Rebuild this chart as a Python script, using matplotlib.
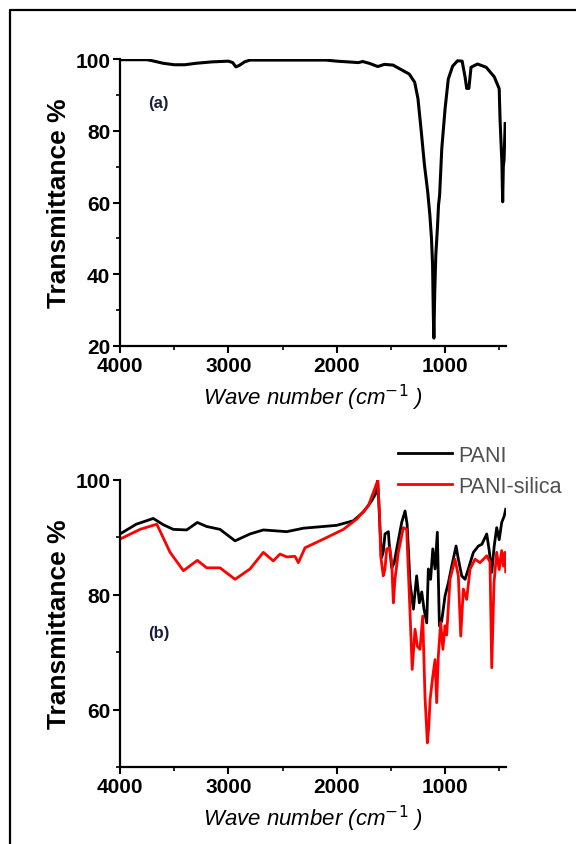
import matplotlib
matplotlib.use('Agg')
from matplotlib import pyplot as plt
from matplotlib.lines import Line2D
from matplotlib.ticker import MultipleLocator

plt.rcParams['font.family'] = ['Liberation Sans', 'DejaVu Sans']

# (a) silica spectrum
wave_a = [4000, 3750, 3700, 3600, 3500, 3400, 3300, 3150, 3000, 2960, 2930, 2900,
          2850, 2800, 2500, 2100, 2000, 1900, 1800, 1760, 1700, 1620, 1560, 1480,
          1420, 1330, 1280, 1250, 1220, 1190, 1160, 1140, 1125, 1115, 1108, 1103,
          1095, 1085, 1070, 1060, 1050, 1030, 1000, 970, 930, 885, 842, 815, 800,
          780, 760, 700, 620, 545, 500, 492, 475, 468, 462, 455, 445]
trans_a = [99.8, 99.8, 99.5, 98.8, 98.4, 98.4, 98.8, 99.2, 99.4, 99.0, 97.8, 98.2,
           99.2, 99.7, 99.7, 99.7, 99.4, 99.2, 99.0, 99.3, 98.8, 97.9, 98.5, 98.3,
           97.3, 95.8, 93.5, 89.0, 80.0, 70.5, 63.0, 56.5, 50.0, 42.6, 28.7, 22.2,
           35.0, 45.4, 53.0, 59.3, 62.0, 75.0, 86.0, 94.4, 98.0, 99.5, 99.4, 95.0, 91.8,
           91.8, 97.7, 98.6, 97.7, 95.0, 91.7, 83.0, 71.0, 60.2, 70.0, 72.0, 82.0]

# (b) PANI
wave_pani = [4000, 3850, 3693, 3600, 3508, 3385, 3286, 3200, 3077, 2938, 2800, 2677,
             2461, 2308, 2000, 1846, 1750, 1680, 1640, 1621, 1600, 1585, 1570, 1554,
             1523, 1515, 1492, 1470, 1446, 1400, 1369, 1350, 1323, 1292, 1262, 1237,
             1215, 1194, 1169, 1154, 1133, 1113, 1092, 1071, 1052, 1031, 1000, 969,
             938, 898, 880, 846, 815, 785, 738, 692, 660, 615, 592, 569, 546, 523,
             500, 477, 454, 440]
trans_pani = [90.6, 92.3, 93.3, 92.2, 91.4, 91.3, 92.6, 91.9, 91.4, 89.4, 90.6, 91.3,
              91.0, 91.6, 92.1, 92.9, 94.5, 96.3, 97.6, 99.9, 91.4, 86.5, 87.5, 90.6,
              91.0, 88.8, 84.7, 85.5, 88.0, 92.6, 94.6, 92.3, 82.1, 77.5, 83.3, 78.6,
              80.5, 77.5, 75.1, 84.5, 82.7, 88.0, 84.5, 90.9, 74.6, 75.4, 79.8, 82.1,
              85.0, 88.5, 86.5, 83.3, 82.7, 84.5, 87.4, 88.5, 88.8, 90.6, 87.7, 83.9,
              88.5, 91.7, 89.6, 92.6, 93.7, 94.9]

# (b) PANI-silica
wave_ps = [4000, 3815, 3661, 3640, 3538, 3415, 3286, 3200, 3077, 2938, 2800, 2677,
           2585, 2523, 2461, 2385, 2354, 2292, 2123, 1938, 1815, 1708, 1621, 1605,
           1594, 1570, 1555, 1538, 1510, 1492, 1477, 1462, 1431, 1385, 1354, 1323,
           1303, 1277, 1255, 1231, 1206, 1185, 1163, 1150, 1138, 1113, 1092, 1077,
           1062, 1040, 1020, 1000, 985, 954, 908, 877, 855, 831, 800, 769, 723, 677,
           615, 585, 569, 548, 523, 500, 477, 462, 446, 440]
trans_ps = [89.7, 91.4, 92.3, 91.5, 87.4, 84.2, 86.0, 84.7, 84.7, 82.7, 84.5, 87.4,
            85.9, 87.1, 86.6, 86.7, 85.6, 88.2, 89.7, 91.4, 93.2, 95.5, 99.9, 94.4,
            86.8, 83.3, 84.4, 88.0, 88.2, 85.6, 78.6, 82.7, 87.4, 91.7, 91.4, 76.9,
            67.0, 74.0, 71.0, 70.5, 76.3, 62.3, 54.2, 57.0, 61.7, 65.8, 68.7, 61.2,
            69.3, 75.2, 70.5, 74.6, 73.0, 82.7, 86.2, 83.3, 72.8, 81.0, 79.2, 84.5,
            86.2, 85.6, 86.8, 85.7, 67.3, 82.1, 87.4, 84.4, 87.7, 85.0, 87.4, 84.0]

W, H = 576, 845
fig = plt.figure(figsize=(W / 100, H / 100), dpi=100)

left = 120 / W
width = (505.7 - 120) / W
ax1 = fig.add_axes([left, 1 - 347 / H, width, (347 - 60) / H])
ax2 = fig.add_axes([left, 1 - 768 / H, width, (768 - 481) / H])

ax1.plot(wave_a, trans_a, color='black', lw=2.2)
ax1.set_ylim(20, 100)
ax1.yaxis.set_major_locator(MultipleLocator(20))
ax1.yaxis.set_minor_locator(MultipleLocator(10))
ax1.text(0.073, 0.847, '(a)', transform=ax1.transAxes, fontsize=12,
         fontweight='bold', color='#1c1c3c', va='center')

ax2.plot(wave_pani, trans_pani, color='black', lw=2.0, label='PANI')
ax2.plot(wave_ps, trans_ps, color='#ff0000', lw=2.0, label='PANI-silica')
ax2.set_ylim(50, 100)
ax2.yaxis.set_major_locator(MultipleLocator(20))
ax2.yaxis.set_minor_locator(MultipleLocator(10))
ax2.text(0.073, 0.467, '(b)', transform=ax2.transAxes, fontsize=12,
         fontweight='bold', color='#1c1c3c', va='center')

for ax in (ax1, ax2):
    ax.set_xlim(4000, 440)
    ax.xaxis.set_major_locator(MultipleLocator(1000))
    ax.xaxis.set_minor_locator(MultipleLocator(500))
    ax.spines['top'].set_visible(False)
    ax.spines['right'].set_visible(False)
    ax.spines['left'].set_linewidth(1.6)
    ax.spines['bottom'].set_linewidth(1.6)
    ax.tick_params(which='major', direction='out', length=5, width=1.5,
                   labelsize=15, pad=2)
    ax.tick_params(which='minor', direction='out', length=3, width=1.2)
    for lab in ax.get_xticklabels() + ax.get_yticklabels():
        lab.set_fontweight('bold')
    ax.set_ylabel('Transmittance %', fontsize=19, fontweight='bold', labelpad=3)
    ax.set_xlabel('Wave number (cm$^{-1}$ )', fontsize=16, style='italic',
                  labelpad=5)

leg = fig.legend(handles=ax2.get_lines(), loc='upper left',
                 bbox_to_anchor=(398 / W, 1 - 446 / H), frameon=False,
                 fontsize=15.5, handlelength=2.5, handletextpad=0.3,
                 borderpad=0, borderaxespad=0, labelspacing=0.45)
for t in leg.get_texts():
    t.set_color('#505050')

# outer frame (left and top edges)
fig.add_artist(Line2D([10 / W, 10 / W, 1], [0, 1 - 11 / H, 1 - 11 / H],
                      color='black', lw=1.6, transform=fig.transFigure))

fig.savefig('out.png', dpi=100)
